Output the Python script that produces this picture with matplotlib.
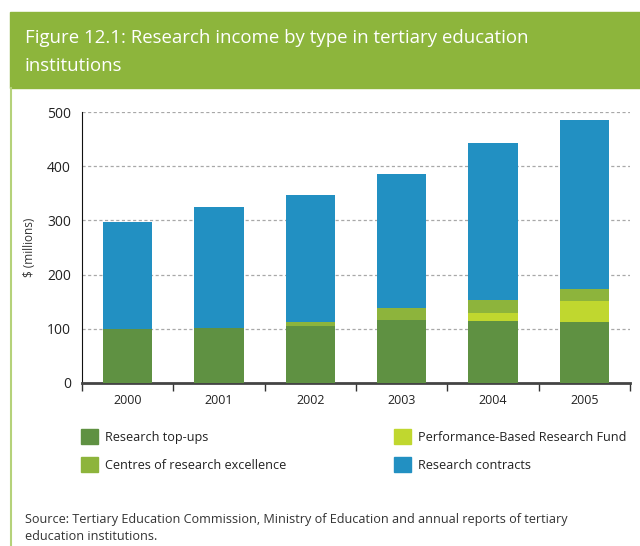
import matplotlib
matplotlib.use("Agg")
import matplotlib.pyplot as plt
from matplotlib.patches import Rectangle, Patch
from matplotlib.lines import Line2D
import numpy as np

# datos ($ millones)
anios = ["2000", "2001", "2002", "2003", "2004", "2005"]
top_ups = [100, 102, 106, 117, 115, 113]
pbrf = [0, 0, 0, 0, 15, 38]
core = [0, 0, 7, 21, 23, 22]
contratos = [197, 223, 234, 248, 290, 312]

nombres = ["Research top-ups", "Performance-Based Research Fund",
           "Centres of research excellence", "Research contracts"]
colores = ["#5f9142", "#c0d72f", "#8db43c", "#2290c2"]

plt.rcParams['font.family'] = ['Open Sans', 'DejaVu Sans']

fig = plt.figure(figsize=(6.4, 5.46), dpi=100)
W, H = 640, 546

# encabezado verde
fig.patches.append(Rectangle((10 / W, 1 - 88 / H), 630 / W, 76 / H,
                             transform=fig.transFigure, color="#8db53c", zorder=0))
fig.lines.append(Line2D([10.5 / W, 10.5 / W], [0, 1 - 88 / H], transform=fig.transFigure,
                        color="#b5d27a", lw=1.5))
fig.text(25 / W, 1 - 38 / H, "Figure 12.1: Research income by type in tertiary education",
         color="white", fontsize=13.4, va="center", ha="left")
fig.text(25 / W, 1 - 66 / H, "institutions", color="white", fontsize=13.4,
         va="center", ha="left")

ax = fig.add_axes([82 / W, 1 - 383 / H, 548 / W, 271 / H])
x = np.arange(len(anios))
base = np.zeros(len(anios))
for vals, col in zip([top_ups, pbrf, core, contratos], colores):
    ax.bar(x, vals, bottom=base, width=0.54, color=col, zorder=3)
    base = base + np.array(vals)

ax.set_xlim(-0.5, len(anios) - 0.5)
ax.set_ylim(0, 500)
ax.set_yticks([0, 100, 200, 300, 400, 500])
ax.tick_params(axis="y", length=0, labelsize=10, pad=8, colors="#222222")
ax.set_xticks(np.arange(len(anios) + 1) - 0.5)
ax.set_xticklabels([])
ax.set_xticks(x, minor=True)
ax.set_xticklabels(anios, minor=True)
ax.tick_params(axis="x", which="major", length=6, width=1, colors="#333333", direction="out")
ax.tick_params(axis="x", which="minor", length=0, labelsize=9, pad=8, colors="#222222")
for v in [100, 200, 300, 400, 500]:
    ax.axhline(v, color="#a8a8a8", lw=0.9, ls=(0, (2.5, 2)), zorder=1)
for s in ["top", "right"]:
    ax.spines[s].set_visible(False)
ax.spines["left"].set_color("#111111")
ax.spines["bottom"].set_color("#444444")
ax.spines["bottom"].set_linewidth(2)
ax.set_ylabel("$ (millions)", fontsize=8.5, color="#333333", labelpad=8)

# leyenda en dos columnas
h = [Patch(color=c) for c in colores]
estilo = dict(loc="upper left", frameon=False, fontsize=9.1, handlelength=1.3,
              handleheight=1.4, handletextpad=0.6, labelspacing=1.05)
leg1 = fig.legend([h[0], h[2]], [nombres[0], nombres[2]],
                  bbox_to_anchor=(70 / W, 1 - 418 / H), **estilo)
leg2 = fig.legend([h[1], h[3]], [nombres[1], nombres[3]],
                  bbox_to_anchor=(383 / W, 1 - 418 / H), **estilo)
for leg in [leg1, leg2]:
    for t in leg.get_texts():
        t.set_color("#222222")

fig.text(25 / W, 1 - 519 / H,
         "Source: Tertiary Education Commission, Ministry of Education and annual reports of tertiary",
         fontsize=9.1, color="#333333", va="center")
fig.text(25 / W, 1 - 537 / H, "education institutions.", fontsize=9.1, color="#333333", va="center")

fig.savefig("out.png", dpi=100)
